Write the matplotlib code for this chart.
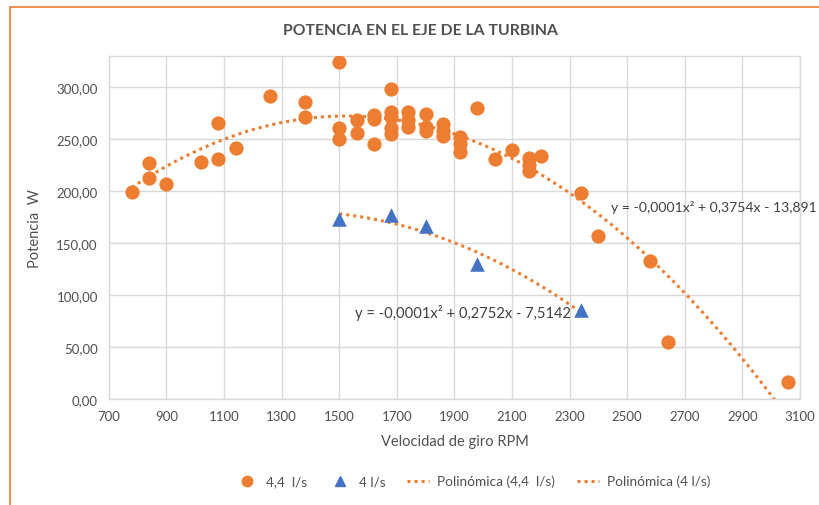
import numpy as np
import matplotlib
matplotlib.use("Agg")
import matplotlib.pyplot as plt
from matplotlib.patches import Rectangle
from matplotlib.lines import Line2D

plt.rcParams['font.family'] = ['Lato', 'DejaVu Sans']

# Data: 4,4 l/s
rpm_44 = [780, 840, 840, 900, 1020, 1080, 1080, 1140, 1260, 1380, 1380,
          1500, 1500, 1500, 1560, 1560, 1620, 1620, 1620,
          1680, 1680, 1680, 1680, 1680, 1740, 1740, 1740,
          1800, 1800, 1800, 1860, 1860, 1860, 1920, 1920, 1920,
          1980, 2040, 2100, 2160, 2160, 2160, 2200, 2340, 2400,
          2580, 2640, 3060]
pot_44 = [199, 227, 213, 207, 228, 266, 231, 242, 292, 286, 271,
          324, 261, 250, 268, 256, 273, 269, 245,
          298, 276, 271, 261, 255, 276, 268, 262,
          274, 262, 258, 265, 258, 253, 252, 245, 238,
          280, 231, 240, 232, 225, 219, 234, 198, 157,
          133, 55, 17]

# Data: 4 l/s
rpm_4 = [1500, 1680, 1800, 1980, 2340]
pot_4 = [173, 177, 167, 130, 86]

eq_44 = "y = -0,0001x² + 0,3754x - 13,891"
eq_4 = "y = -0,0001x² + 0,2752x - 7,5142"

x_ticks = list(range(700, 3101, 200))
y_ticks = list(range(0, 301, 50))

ORANGE = '#ED7D31'
BLUE = '#4472C4'
GRID = '#D9D9D9'
TXT = '#505050'

fig = plt.figure(figsize=(8.2, 5.06), dpi=100)
ax = fig.add_axes([108.9/820, 1-400.3/506, (800-108.9)/820, (400.3-57)/506])

# chart border
fig.patches.append(Rectangle((10/820, -0.1), 1.2, 1-8/506+0.1, transform=fig.transFigure,
                             fill=False, edgecolor=ORANGE, lw=1.2, zorder=0))

# trendlines
c44 = np.polyfit(rpm_44, pot_44, 2)
xx = np.linspace(min(rpm_44), max(rpm_44), 400)
ax.plot(xx, np.polyval(c44, xx), color=ORANGE, lw=2.2, linestyle=(0, (1, 1.3)), zorder=2)
c4 = np.polyfit(rpm_4, pot_4, 2)
xx4 = np.linspace(min(rpm_4), max(rpm_4), 200)
ax.plot(xx4, np.polyval(c4, xx4), color=ORANGE, lw=2.2, linestyle=(0, (1, 1.3)), zorder=2)

ax.scatter(rpm_44, pot_44, s=105, color=ORANGE, marker='o', linewidths=0, zorder=3)
ax.scatter(rpm_4, pot_4, s=110, color=BLUE, marker='^', linewidths=0, zorder=3)

ax.set_xlim(700, 3100)
ax.set_ylim(0, 330)
ax.set_xticks(x_ticks)
ax.set_yticks(y_ticks)
ax.set_xticklabels([str(v) for v in x_ticks])
ax.set_yticklabels([f"{v:.2f}".replace('.', ',') for v in y_ticks])
ax.grid(True, color=GRID, lw=1.0)
ax.set_axisbelow(True)
for s in ax.spines.values():
    s.set_color(GRID)
    s.set_linewidth(1.0)
ax.tick_params(length=0, labelsize=9.5, colors=TXT, pad=8)

ax.set_xlabel("Velocidad de giro RPM", fontsize=10.5, color=TXT, labelpad=8)
ax.set_ylabel("Potencia  W", fontsize=10.5, color=TXT, labelpad=10)

fig.text(421/820, 1-31/506, "POTENCIA EN EL EJE DE LA TURBINA", ha='center', va='center',
         fontsize=11.3, fontweight='bold', color=TXT)

ax.text(611/820, 1-208/506, eq_44, transform=fig.transFigure, ha='left', va='center',
        fontsize=10.1, color='#404040', clip_on=False)
ax.text(355/820, 1-313/506, eq_4, transform=fig.transFigure, ha='left', va='center',
        fontsize=10.6, color='#404040', clip_on=False)

handles = [
    Line2D([], [], marker='o', color=ORANGE, linestyle='none', markersize=7.5),
    Line2D([], [], marker='^', color=BLUE, linestyle='none', markersize=7.5),
    Line2D([], [], color=ORANGE, lw=2.2, linestyle=(0, (1, 1.3))),
    Line2D([], [], color=ORANGE, lw=2.2, linestyle=(0, (1, 1.3))),
]
labels = ["4,4  l/s", "4 l/s", "Polinómica (4,4  l/s)", "Polinómica (4 l/s)"]
leg = fig.legend(handles, labels, loc='center', bbox_to_anchor=(473/820, 1-482/506), ncol=4,
                 frameon=False, fontsize=9.8, handlelength=1.6, columnspacing=1.6,
                 handletextpad=0.6)
for t in leg.get_texts():
    t.set_color(TXT)

fig.savefig("out.png", dpi=100)
